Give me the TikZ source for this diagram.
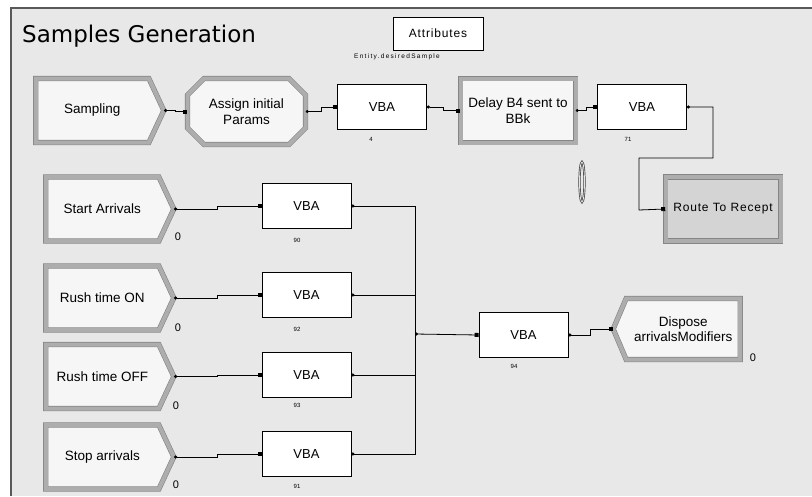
\documentclass[tikz,border=0pt]{standalone}
\usepackage{fontspec}
\setmainfont{Liberation Sans}
\newfontfamily\titlefont{DejaVu Sans}
\newfontfamily\spacedfont[LetterSpace=7]{Liberation Sans}
\newfontfamily\widefont[LetterSpace=20]{Liberation Sans}
\usetikzlibrary{positioning,calc,shapes.symbols,shapes.misc,arrows.meta}
\definecolor{panelbg}{HTML}{E8E8E8}
\definecolor{modfill}{HTML}{F6F6F6}
\definecolor{modedge}{HTML}{ADADAD}
\definecolor{modline}{HTML}{858585}
\definecolor{routefill}{HTML}{D4D4D4}
\tikzset{
  module/.style={draw=modline, line width=0.6pt, double=modedge, double distance=4pt,
    fill=modfill, align=center, inner sep=2pt, font=\fontsize{13.5}{15.5}\selectfont},
  create/.style={module, signal, signal to=east, signal pointer angle=130,
    minimum width=128pt, minimum height=64pt, anchor=west},
  dispose/.style={module, signal, signal to=west, signal pointer angle=134,
    minimum width=127pt, minimum height=61pt, anchor=east},
  process/.style={module, rectangle, minimum width=115pt, minimum height=64pt},
  assign/.style={module, chamfered rectangle, chamfered rectangle xsep=13pt,
    minimum width=118pt, minimum height=66pt},
  vba/.style={draw, fill=white, line width=0.8pt, minimum width=89pt,
    minimum height=45pt, font=\fontsize{13}{15}\selectfont},
  tag/.style={font=\fontsize{6}{7}\selectfont, inner sep=0pt},
  count/.style={font=\fontsize{11}{12}\selectfont, inner sep=0pt},
  conn/.style={line width=0.8pt, {Circle[length=3pt]}-{Square[length=4pt,width=4pt]}},
  exit/.style={line width=0.8pt, {Circle[length=3pt]}-},
  jog/.style={to path={-| ($(\tikztostart)!.5!(\tikztotarget)$) |- (\tikztotarget)}}
}
\begin{document}
\begin{tikzpicture}[x=1pt, y=-1pt]
  \useasboundingbox (0,0) rectangle (812,496);
  \fill[panelbg] (11,8) rectangle (812,496);
  \draw[black!65, line width=2pt] (11,496) -- (11,8) -- (812,8);

  \node[anchor=base west, inner sep=0pt, font=\titlefont\fontsize{23}{28}\selectfont]
    (title) at (22,42) {Samples Generation};
  \node[draw, fill=white, line width=0.8pt, minimum width=90pt, minimum height=33pt,
    font=\spacedfont\fontsize{12}{14}\selectfont] (attr) at (438,33.5) {Attributes};
  \node[tag, font=\widefont\fontsize{6.5}{7}\selectfont] (ent) at (397,57) {Entity.desiredSample};

  % top row
  \node[create] (smp) at (35.5,110.5) {Sampling};
  \node[assign] (asg) at (246.5,111.5) {Assign initial\\Params};
  \node[vba] (v4) at (382,107) {VBA};
  \node[process] (dly) at (518,110.5) {Delay B4 sent to\\BBk};
  \node[vba] (v71) at (642,107) {VBA};
  \node[process, fill=routefill, font=\spacedfont\fontsize{12}{14}\selectfont]
    (route) at (723,209) {Route To Recept};
  \node[tag] (t4) at (371,139) {4};
  \node[tag] (t71) at (628,139) {71};

  % arrivals modifiers
  \node[create] (sa) at (45.5,209) {Start Arrivals};
  \node[create] (rn) at (45.5,298) {Rush time ON};
  \node[create] (rf) at (45.5,376.5) {Rush time OFF};
  \node[create] (sp) at (45.5,457) {Stop arrivals};
  \node[count] (c1) at (178,237) {0};
  \node[count] (c2) at (178,328) {0};
  \node[count] (c3) at (176,406) {0};
  \node[count] (c4) at (176,485) {0};

  \node[vba] (v90) at (306.5,206) {VBA};
  \node[vba] (v92) at (306.5,295) {VBA};
  \node[vba] (v93) at (306.5,375) {VBA};
  \node[vba] (v91) at (306.5,454) {VBA};
  \node[tag] (t90) at (297,240) {90};
  \node[tag] (t92) at (297,329) {92};
  \node[tag] (t93) at (297,405) {93};
  \node[tag] (t91) at (297,486) {91};

  \node[vba] (v94) at (523.5,335) {VBA};
  \node[tag] (t94) at (514,366) {94};
  \node[dispose] (dsp) at (740.5,329) {Dispose\\arrivalsModifiers};
  \node[count] (c5) at (753,358) {0};

  % variable marker
  \draw[black!75, line width=0.7pt, double=white!80!gray, double distance=0.8pt]
    (582,182) ellipse [x radius=2.5, y radius=20];

  \coordinate (bend1) at (713,158);
  \coordinate (bend2) at (639,210);
  \coordinate (bus) at (415,334);

  \draw[conn] (smp.east) to[jog] (asg.west);
  \draw[conn] (asg.east) to[jog] (v4.west);
  \draw[conn] (v4.east) to[jog] (dly.west);
  \draw[conn] (dly.east) to[jog] (v71.west);
  \draw[conn] (v71.east) -| (bend1) -| (bend2) -- (route.west);

  \draw[conn] (sa.east) to[jog] (v90.west);
  \draw[conn] (rn.east) to[jog] (v92.west);
  \draw[conn] (rf.east) to[jog] (v93.west);
  \draw[conn] (sp.east) to[jog] (v91.west);

  \draw[exit] (v90.east) -| (bus);
  \draw[exit] (v92.east) -| (bus);
  \draw[exit] (v93.east) -| (bus);
  \draw[exit] (v91.east) -| (bus);
  \draw[conn] (bus) -- (v94.west);
  \draw[conn] (v94.east) to[jog] (dsp.west);
\end{tikzpicture}
\end{document}
